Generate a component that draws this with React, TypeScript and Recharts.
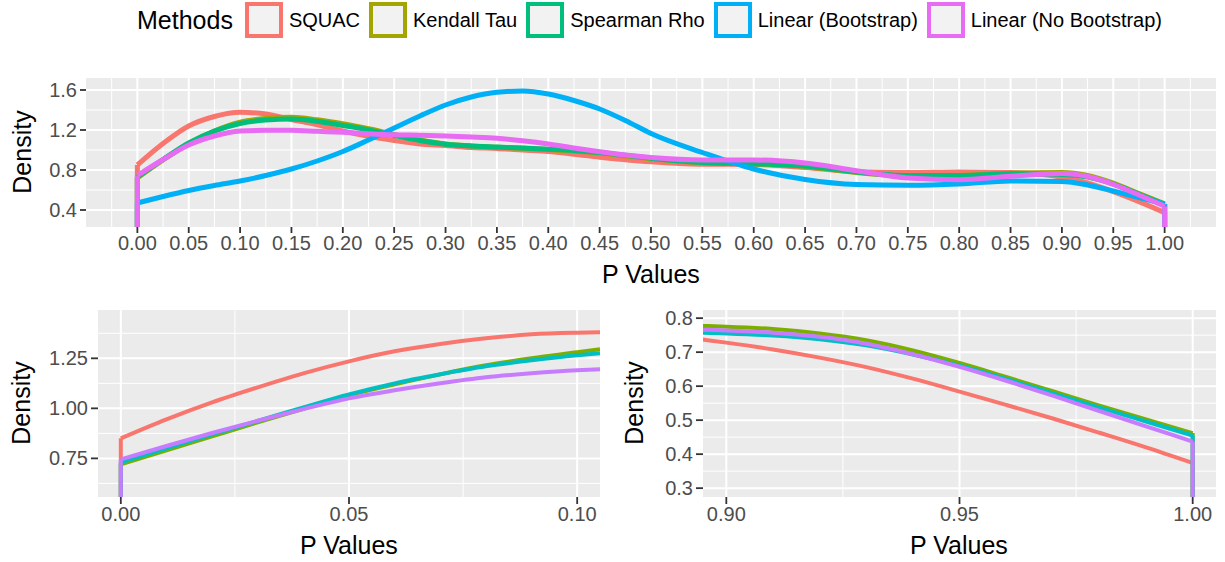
import React from 'react';
import { LineChart, Line, XAxis, YAxis, CartesianGrid } from 'recharts';

const FONT = '"Liberation Sans", Arial, Helvetica, sans-serif';

// legend / series
const methods = ['SQUAC', 'Kendall Tau', 'Spearman Rho', 'Linear (Bootstrap)', 'Linear (No Bootstrap)'];
const topColors = ['#F8766D', '#A3A500', '#00BF7D', '#00B0F6', '#E76BF3'];
const zoomColors = ['#F8766D', '#7CAE00', '#00BFC4', '#C77CFF'];

// full range density (top panel)
const pTop = [0, 0.025, 0.05, 0.075, 0.1, 0.125, 0.15, 0.175, 0.2, 0.225, 0.25, 0.275, 0.3, 0.325, 0.35, 0.375, 0.4, 0.425, 0.45, 0.475, 0.5, 0.55, 0.6, 0.65, 0.7, 0.75, 0.8, 0.85, 0.9, 0.925, 0.95, 0.975, 1.0];
const squacTop = [0.85, 1.065, 1.24, 1.335, 1.378, 1.36, 1.305, 1.253, 1.19, 1.137, 1.095, 1.06, 1.045, 1.025, 1.015, 1.0, 0.985, 0.958, 0.928, 0.903, 0.882, 0.858, 0.855, 0.825, 0.782, 0.775, 0.78, 0.775, 0.728, 0.67, 0.584, 0.484, 0.374];
const kendallTop = [0.72, 0.9, 1.065, 1.19, 1.278, 1.315, 1.327, 1.302, 1.262, 1.212, 1.155, 1.1, 1.06, 1.04, 1.028, 1.018, 1.005, 0.99, 0.97, 0.942, 0.912, 0.872, 0.86, 0.835, 0.775, 0.742, 0.745, 0.768, 0.775, 0.745, 0.668, 0.564, 0.462];
const spearmanTop = [0.73, 0.905, 1.07, 1.19, 1.265, 1.3, 1.31, 1.287, 1.245, 1.2, 1.145, 1.095, 1.058, 1.04, 1.03, 1.02, 1.008, 0.995, 0.975, 0.948, 0.918, 0.876, 0.863, 0.84, 0.78, 0.745, 0.745, 0.762, 0.755, 0.729, 0.66, 0.558, 0.455];
const bootTop = [0.47, 0.535, 0.595, 0.645, 0.69, 0.745, 0.81, 0.89, 0.985, 1.1, 1.22, 1.34, 1.45, 1.53, 1.577, 1.59, 1.56, 1.495, 1.41, 1.295, 1.165, 0.975, 0.81, 0.705, 0.655, 0.647, 0.66, 0.69, 0.685, 0.65, 0.59, 0.525, 0.46];
const noBootTop = [0.745, 0.905, 1.05, 1.14, 1.19, 1.197, 1.197, 1.187, 1.177, 1.163, 1.152, 1.147, 1.14, 1.13, 1.117, 1.092, 1.06, 1.02, 0.983, 0.95, 0.925, 0.9, 0.9, 0.87, 0.793, 0.72, 0.703, 0.737, 0.764, 0.735, 0.657, 0.55, 0.437];

// zoom near 0 (bottom left)
const pLow = [0, 0.01, 0.02, 0.03, 0.04, 0.05, 0.06, 0.07, 0.08, 0.09, 0.1, 0.105];
const squacLow = [0.85, 0.945, 1.03, 1.105, 1.175, 1.235, 1.285, 1.322, 1.35, 1.37, 1.378, 1.38];
const kendallLow = [0.72, 0.79, 0.86, 0.93, 0.998, 1.065, 1.12, 1.17, 1.215, 1.25, 1.28, 1.295];
const spearmanLow = [0.73, 0.8, 0.87, 0.937, 1.005, 1.07, 1.125, 1.17, 1.21, 1.24, 1.265, 1.275];
const noBootLow = [0.745, 0.812, 0.877, 0.938, 0.996, 1.05, 1.09, 1.125, 1.155, 1.175, 1.19, 1.195];

// zoom near 1 (bottom right)
const pHigh = [0.895, 0.9, 0.91, 0.92, 0.93, 0.94, 0.95, 0.96, 0.97, 0.98, 0.99, 1.0];
const squacHigh = [0.737, 0.728, 0.708, 0.684, 0.656, 0.622, 0.584, 0.545, 0.505, 0.463, 0.42, 0.374];
const kendallHigh = [0.777, 0.775, 0.768, 0.755, 0.735, 0.705, 0.668, 0.627, 0.585, 0.543, 0.502, 0.462];
const spearmanHigh = [0.757, 0.755, 0.749, 0.738, 0.72, 0.693, 0.66, 0.621, 0.579, 0.537, 0.496, 0.455];
const noBootHigh = [0.766, 0.764, 0.757, 0.745, 0.725, 0.694, 0.657, 0.616, 0.572, 0.527, 0.482, 0.437];

// ticks
const topXTicks = [0, 0.05, 0.1, 0.15, 0.2, 0.25, 0.3, 0.35, 0.4, 0.45, 0.5, 0.55, 0.6, 0.65, 0.7, 0.75, 0.8, 0.85, 0.9, 0.95, 1.0];
const topYTicks = [0.4, 0.8, 1.2, 1.6];
const lowXTicks = [0, 0.05, 0.1];
const lowYTicks = [0.75, 1.0, 1.25];
const highXTicks = [0.9, 0.95, 1.0];
const highYTicks = [0.3, 0.4, 0.5, 0.6, 0.7, 0.8];

type Series = { name: string; color: string; values: number[] };

const makeSeries = (names: string[], colors: string[], values: number[][]): Series[] =>
  values.map((v, i) => ({ name: names[i], color: colors[i], values: v }));

const topSeries = makeSeries(methods, topColors, [squacTop, kendallTop, spearmanTop, bootTop, noBootTop]);
const zoomNames = [methods[0], methods[1], methods[2], methods[4]];
const lowSeries = makeSeries(zoomNames, zoomColors, [squacLow, kendallLow, spearmanLow, noBootLow]);
const highSeries = makeSeries(zoomNames, zoomColors, [squacHigh, kendallHigh, spearmanHigh, noBootHigh]);

const minorOf = (ticks: number[], domain: number[]) => {
  const step = ticks[1] - ticks[0];
  const out: number[] = [];
  for (let v = ticks[0] - step / 2; v <= ticks[ticks.length - 1] + step / 2 + 1e-9; v += step) {
    if (v > domain[0] && v < domain[1]) out.push(+v.toFixed(4));
  }
  return out;
};

type PanelProps = {
  left: number;
  top: number;
  width: number;
  height: number;
  margin: { top: number; right: number; bottom: number; left: number };
  grid: number[];
  series: Series[];
  lead: boolean; // density support starts at grid[0]
  trail: boolean; // density support ends at last grid point
  xDomain: number[];
  xTicks: number[];
  yDomain: number[];
  yTicks: number[];
  xDigits: number;
  yDigits: number;
  yWidth: number;
  lineWidth: number;
  tickLen: number;
};

const tickStyle = { fill: '#4D4D4D', fontSize: 20, fontFamily: FONT };

const Panel = (p: PanelProps) => {
  const first = p.grid[0];
  const last = p.grid[p.grid.length - 1];
  const lines: React.ReactNode[] = [];
  p.series.forEach((s, i) => {
    const common = {
      dataKey: 'v',
      stroke: s.color,
      strokeWidth: p.lineWidth,
      dot: false,
      activeDot: false,
      isAnimationActive: false,
      legendType: 'none' as const,
    };
    if (p.lead) {
      const drop = [{ p: first, v: 0 }, { p: first, v: s.values[0] }];
      lines.push(<Line key={`l${i}`} {...common} type="linear" data={drop} />);
    }
    const curve = p.grid.map((x, j) => ({ p: x, v: s.values[j] }));
    lines.push(<Line key={`c${i}`} {...common} name={s.name} type="monotone" data={curve} />);
    if (p.trail) {
      const drop = [{ p: last, v: s.values[s.values.length - 1] }, { p: last, v: 0 }];
      lines.push(<Line key={`r${i}`} {...common} type="linear" data={drop} />);
    }
  });

  return (
    <div style={{ position: 'absolute', left: p.left, top: p.top }}>
      <LineChart width={p.width} height={p.height} margin={p.margin}>
        <CartesianGrid
          stroke="#FFFFFF"
          strokeWidth={1}
          fill="#EBEBEB"
          fillOpacity={1}
          verticalValues={minorOf(p.xTicks, p.xDomain)}
          horizontalValues={minorOf(p.yTicks, p.yDomain)}
        />
        <CartesianGrid stroke="#FFFFFF" strokeWidth={2} verticalValues={p.xTicks} horizontalValues={p.yTicks} />
        <XAxis
          type="number"
          dataKey="p"
          domain={p.xDomain}
          ticks={p.xTicks}
          interval={0}
          allowDataOverflow
          axisLine={false}
          tickLine={{ stroke: '#333333', strokeWidth: 1.8 }}
          tickSize={p.tickLen}
          tickMargin={3}
          height={40}
          tick={tickStyle}
          tickFormatter={(v: number) => v.toFixed(p.xDigits)}
        />
        <YAxis
          type="number"
          domain={p.yDomain}
          ticks={p.yTicks}
          interval={0}
          allowDataOverflow
          axisLine={false}
          tickLine={{ stroke: '#333333', strokeWidth: 1.8 }}
          tickSize={p.tickLen}
          tickMargin={3}
          width={p.yWidth}
          tick={tickStyle}
          tickFormatter={(v: number) => v.toFixed(p.yDigits)}
        />
        {lines}
      </LineChart>
    </div>
  );
};

const Title = ({ x, y, text, rotate }: { x: number; y: number; text: string; rotate?: boolean }) => (
  <div
    style={{
      position: 'absolute',
      left: x,
      top: y,
      transform: `translate(-50%, -50%)${rotate ? ' rotate(-90deg)' : ''}`,
      fontFamily: FONT,
      fontSize: 25,
      color: '#000',
      whiteSpace: 'nowrap',
      lineHeight: 1,
    }}
  >
    {text}
  </div>
);

const Legend = () => (
  <div
    style={{
      position: 'absolute',
      left: 137,
      top: 2,
      height: 36,
      display: 'flex',
      alignItems: 'center',
      fontFamily: FONT,
      whiteSpace: 'nowrap',
    }}
  >
    <span style={{ fontSize: 25, marginRight: 12 }}>Methods</span>
    {methods.map((m, i) => (
      <React.Fragment key={m}>
        <span
          style={{
            width: 38,
            height: 36,
            boxSizing: 'border-box',
            border: `4px solid ${topColors[i]}`,
            background: '#F2F2F2',
            marginRight: 6,
          }}
        />
        <span style={{ fontSize: 20, marginRight: 9 }}>{m}</span>
      </React.Fragment>
    ))}
  </div>
);

export default function App() {
  return (
    <div style={{ position: 'absolute', left: 0, top: 0, width: 1225, height: 562, background: '#FFFFFF', overflow: 'hidden' }}>
      <Legend />
      <Panel
        left={0}
        top={0}
        width={1225}
        height={300}
        margin={{ top: 78, right: 9, bottom: 33, left: 6 }}
        grid={pTop}
        series={topSeries}
        lead
        trail
        xDomain={[-0.05, 1.05]}
        xTicks={topXTicks}
        yDomain={[0.23, 1.72]}
        yTicks={topYTicks}
        xDigits={2}
        yDigits={1}
        yWidth={80}
        lineWidth={5}
        tickLen={6}
      />
      <Panel
        left={0}
        top={290}
        width={610}
        height={272}
        margin={{ top: 20, right: 10, bottom: 25, left: 8 }}
        grid={pLow}
        series={lowSeries}
        lead
        trail={false}
        xDomain={[-0.005, 0.105]}
        xTicks={lowXTicks}
        yDomain={[0.557, 1.4915]}
        yTicks={lowYTicks}
        xDigits={2}
        yDigits={2}
        yWidth={90}
        lineWidth={4}
        tickLen={7}
      />
      <Panel
        left={610}
        top={290}
        width={615}
        height={272}
        margin={{ top: 20, right: 9, bottom: 25, left: 13 }}
        grid={pHigh}
        series={highSeries}
        lead={false}
        trail
        xDomain={[0.895, 1.005]}
        xTicks={highXTicks}
        yDomain={[0.274, 0.824]}
        yTicks={highYTicks}
        xDigits={2}
        yDigits={1}
        yWidth={80}
        lineWidth={4}
        tickLen={7}
      />
      <Title x={22} y={152} text="Density" rotate />
      <Title x={651} y={274} text="P Values" />
      <Title x={21} y={403} text="Density" rotate />
      <Title x={349} y={545} text="P Values" />
      <Title x={634} y={403} text="Density" rotate />
      <Title x={959} y={545} text="P Values" />
    </div>
  );
}
